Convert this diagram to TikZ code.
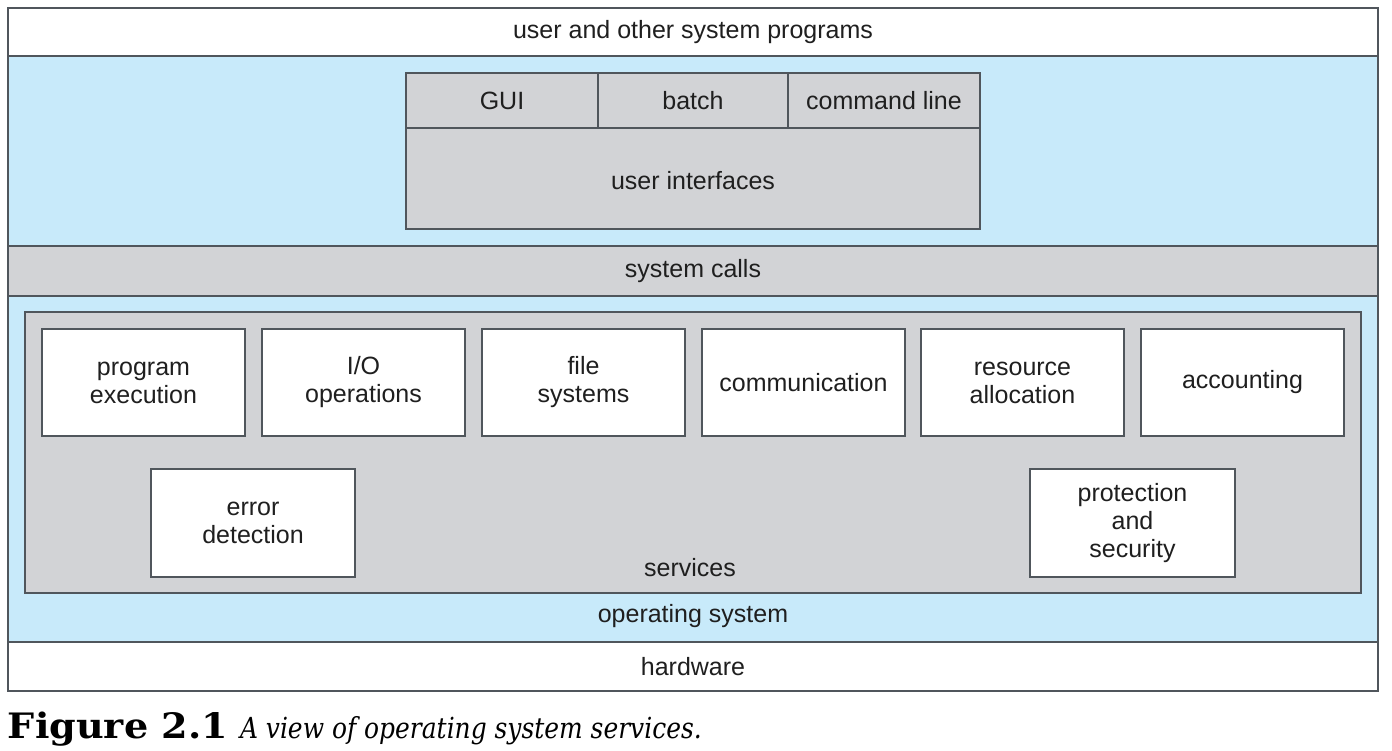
\documentclass[tikz,border=0pt]{standalone}
\usepackage{fontspec}
\setsansfont{Liberation Sans}
\newfontfamily\capfont[FakeStretch=1.09]{DejaVu Serif}
\newfontfamily\capitfont[FakeStretch=0.86]{DejaVu Serif}
\definecolor{osblue}{RGB}{200,234,250}
\definecolor{svgray}{RGB}{210,211,214}
\definecolor{edgecol}{RGB}{80,86,92}
\begin{document}
\begin{tikzpicture}[x=1pt,y=-1pt,
  every node/.style={inner sep=0pt, outer sep=0pt, font=\sffamily\fontsize{25}{28}\selectfont, text=black!88},
  rbox/.style={draw=edgecol, line width=1.3pt, anchor=north west, align=center},
  layer/.style={rbox, fill=white},
  bluelayer/.style={rbox, fill=osblue},
  graybox/.style={rbox, fill=svgray},
  svc/.style={rbox, fill=white, minimum width=203pt, minimum height=107pt},
  lbl/.style={align=center}
]
\useasboundingbox (0,0) rectangle (1392,750);
\fill[white] (0,0) rectangle (1392,750);
% layers
\node[layer, minimum width=1370pt, minimum height=48pt] (userprog) at (8,8) {user and other system programs};
\node[bluelayer, minimum width=1370pt, minimum height=586pt] (os) at (8,56) {};
\node[graybox, minimum width=1370pt, minimum height=50pt] (syscalls) at (8,246) {system calls};
\node[layer, minimum width=1370pt, minimum height=49pt] (hardware) at (8,642) {hardware};
\node[lbl] (oslabel) at (693,616) {operating system};
% user interfaces
\node[graybox, minimum width=574pt, minimum height=156pt] (ui) at (406,73) {};
\node[graybox, minimum width=192pt, minimum height=55pt] (gui) at (406,73) {GUI};
\node[graybox, minimum width=190pt, minimum height=55pt] (batch) at (598,73) {batch};
\node[graybox, minimum width=192pt, minimum height=55pt] (cmd) at (788,73) {command line};
\node[lbl] (uilabel) at (693,181) {user interfaces};
% services
\node[graybox, minimum width=1336pt, minimum height=281pt] (services) at (25,312) {};
\node[lbl] (svclabel) at (690,568) {services};
\node[svc] (progexec) at (42,329) {program\\execution};
\node[svc] (io) at (262,329) {I/O\\operations};
\node[svc] (fs) at (482,329) {file\\systems};
\node[svc] (comm) at (702,329) {communication};
\node[svc] (res) at (921,329) {resource\\allocation};
\node[svc] (acct) at (1141,329) {accounting};
\node[svc, minimum width=204pt, minimum height=108pt] (err) at (151,469) {error\\detection};
\node[svc, minimum width=205pt, minimum height=108pt] (prot) at (1030,469) {protection\\and\\security};
% caption
\node[anchor=base west, font=\capfont\bfseries\fontsize{35}{38}\selectfont, text=black] (figno) at (8,738) {Figure 2.1};
\node[anchor=base west, font=\capitfont\itshape\fontsize{29}{34}\selectfont, text=black] (figcap) at (240,738) {A view of operating system services.};
\end{tikzpicture}
\end{document}
